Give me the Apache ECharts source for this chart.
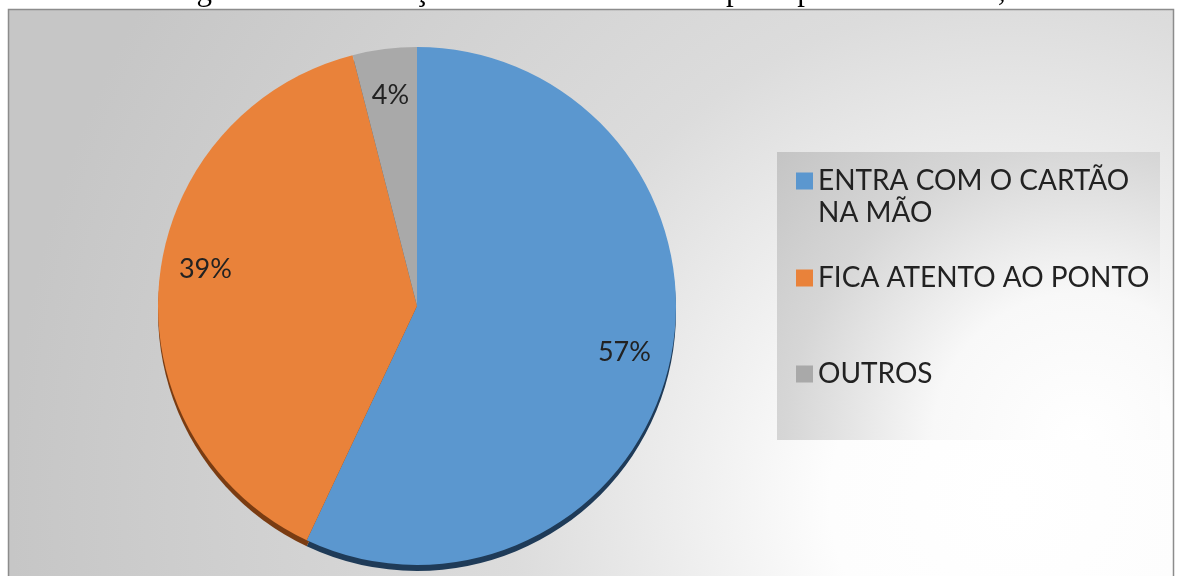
<!DOCTYPE html>
<html>
<head>
<meta charset="utf-8">
<script src="https://cdn.jsdelivr.net/npm/echarts@6/dist/echarts.min.js"></script>
<style>
  html, body { margin: 0; padding: 0; background: #ffffff; }
  #chart { width: 1178px; height: 576px; }
</style>
</head>
<body>
<div id="chart"></div>
<script>
// Categories and their shares (%)
const categories = ['ENTRA COM O CARTÃO\nNA MÃO', 'FICA ATENTO AO PONTO', 'OUTROS'];
const shares = [57, 39, 4];
const sliceColors = ['#5b97cf', '#e9823a', '#a9a9a9'];
const rimColors = ['#1f3b58', '#7a3c12', '#555555'];
const titleText = 'Figura 6 - Colaboração dos usuários no transporte público coletivo, 2016';

const chart = echarts.init(document.getElementById('chart'), null, { renderer: 'canvas' });

const pieData = categories.map((name, i) => ({ name, value: shares[i] }));
const center = [417, 306];
const R = 259;
const font = 'Lato, "Open Sans", sans-serif';

const legendBase = {
  orient: 'vertical',
  left: 796,
  padding: 0,
  itemWidth: 17,
  itemHeight: 17,
  itemGap: 10,
  icon: 'rect',
  selectedMode: false,
  textStyle: { fontFamily: font, fontSize: 28, color: '#222222', lineHeight: 32 }
};

chart.setOption({
  animation: false,
  graphic: [
    {
      type: 'rect', z: -10, silent: true,
      shape: { x: 8.5, y: 9.5, width: 1165, height: 600 },
      style: {
        fill: {
          type: 'radial', x: 1010, y: 500, r: 1000, global: true,
          colorStops: [
            { offset: 0, color: '#ffffff' },
            { offset: 0.18, color: '#fdfdfd' },
            { offset: 0.5, color: '#dcdcdc' },
            { offset: 1, color: '#c6c6c6' }
          ]
        },
        stroke: '#8c8c8c', lineWidth: 1.5
      }
    },
    {
      type: 'rect', z: -9, silent: true,
      shape: { x: 777, y: 152, width: 383, height: 288 },
      style: {
        fill: {
          type: 'radial', x: 1080, y: 440, r: 420, global: true,
          colorStops: [
            { offset: 0, color: '#ffffff' },
            { offset: 0.35, color: '#f8f8f8' },
            { offset: 0.7, color: '#d6d6d6' },
            { offset: 1, color: '#c4c4c4' }
          ]
        }
      }
    },
    {
      // figure caption, partly cut by the top edge of the page
      type: 'text', z: 10, silent: true,
      x: 623, y: -8,
      style: {
        text: titleText,
        font: '31px "Liberation Serif", serif',
        fill: '#000000',
        align: 'center',
        verticalAlign: 'middle'
      }
    }
  ],
  legend: [
    Object.assign({}, legendBase, {
      top: 133, data: [categories[0]],
      // blank first line keeps the marker level with the first text line
      formatter: name => '\n' + name
    }),
    Object.assign({}, legendBase, { top: 262, data: [categories[1]] }),
    Object.assign({}, legendBase, { top: 358, data: [categories[2]] })
  ],
  color: sliceColors,
  series: [
    {
      // darker rim under the pie
      name: 'rim', type: 'pie', silent: true, z: 1,
      center: [center[0], center[1] + 6], radius: R,
      startAngle: 90, clockwise: true,
      label: { show: false }, labelLine: { show: false },
      itemStyle: { borderWidth: 0 },
      data: pieData.map((d, i) => ({ name: d.name + ' ', value: d.value, itemStyle: { color: rimColors[i] } }))
    },
    {
      name: 'main', type: 'pie', z: 2,
      center: center, radius: R,
      startAngle: 90, clockwise: true,
      label: { show: false }, labelLine: { show: false },
      itemStyle: { borderWidth: 0 },
      data: pieData
    },
    {
      // percentage labels placed in the outer band of each slice
      name: 'labels', type: 'pie', silent: true, z: 3,
      center: center, radius: [160, R],
      startAngle: 90, clockwise: true,
      itemStyle: { color: 'rgba(0,0,0,0)', borderWidth: 0 },
      labelLine: { show: false },
      label: {
        show: true, position: 'inside',
        formatter: p => Math.round(p.percent) + '%',
        fontFamily: font, fontSize: 27, color: '#222222'
      },
      labelLayout: p => (p.dataIndex === 1 ? { dy: -17 } : {}),
      data: pieData.map(d => ({ name: d.name + '  ', value: d.value }))
    }
  ]
});
</script>
</body>
</html>
